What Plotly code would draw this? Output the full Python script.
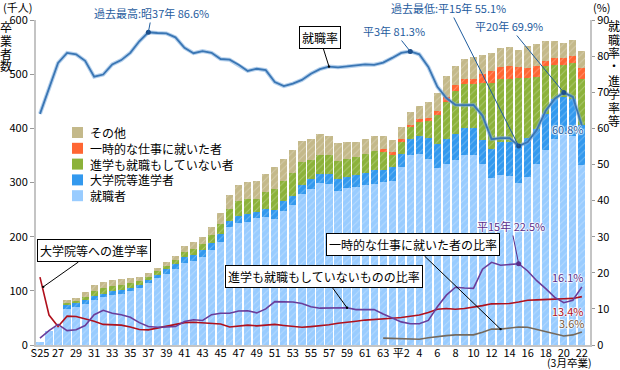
import plotly.graph_objects as go

# ---------------- data ----------------
years = list(range(1950, 2011))

employed = [6, 25, 34, 67, 70, 76, 84, 88, 93, 95,
            100, 106, 115, 123, 132, 141, 151, 155, 163, 176,
            191, 218, 226, 228, 235, 237, 233, 248, 258, 279,
            288, 300, 297, 284, 289, 292, 296, 298, 301, 303,
            329, 351, 353, 343, 327, 334, 341, 351, 350, 335,
            308, 314, 312, 300, 311, 334, 360, 380, 389, 385, 332]
grad_school = [0, 0, 0, 7, 7, 7, 6, 6, 6, 6,
               6, 5, 5, 7, 8, 9, 11, 12, 12, 13,
               14, 11, 13, 14, 11, 14, 17, 17, 18, 16,
               18, 16, 19, 22, 21, 21, 22, 25, 22, 25,
               24, 29, 33, 39, 45, 46, 48, 49, 50, 44,
               53, 60, 62, 71, 72, 65, 66, 75, 68, 69, 74]
neither = [0, 0, 0, 3, 4, 5, 9, 11, 10, 9,
           8, 7, 6, 6, 6, 7, 9, 10, 11, 15,
           18, 22, 27, 27, 24, 32, 38, 37, 42, 42,
           36, 35, 34, 34, 33, 34, 35, 35, 34, 23,
           22, 22, 26, 32, 53, 69, 80, 81, 82, 104,
           122, 118, 118, 122, 110, 96, 90, 62, 60, 66, 85]
temporary = [0] * 38 + [5, 6,
             5, 4, 5, 6, 7, 8, 11, 10, 10, 18,
             22, 21, 24, 21, 18, 20, 9, 12, 12, 14, 20]
others = [0, 0, 0, 6, 6, 9, 11, 11, 11, 11,
          10, 8, 7, 6, 7, 8, 12, 14, 14, 14,
          21, 26, 29, 32, 33, 33, 41, 41, 42, 40,
          38, 39, 36, 33, 32, 28, 27, 28, 24, 21,
          23, 25, 24, 29, 33, 40, 35, 37, 40, 34,
          35, 35, 34, 31, 41, 40, 36, 32, 28, 29, 32]

employment_rate = [64.0, 71.3, 78.1, 80.9, 80.5, 78.7, 74.3, 74.9, 77.7, 78.9,
                   80.9, 84.1, 86.6, 86.4, 86.3, 85.2, 82.3, 80.8, 81.4, 80.9,
                   79.2, 79.0, 77.6, 75.9, 76.5, 76.1, 72.8, 71.7, 72.4, 73.4,
                   75.1, 76.4, 77.1, 76.9, 77.1, 77.5, 77.7, 77.6, 78.2, 79.5,
                   80.9, 81.3, 80.5, 77.0, 71.5, 68.4, 66.5, 66.4, 66.5, 63.5,
                   57.0, 57.3, 57.3, 55.1, 56.2, 59.5, 64.9, 68.2, 69.9, 68.7, 60.8]
grad_rate = [18.8, 8.3, 5.1, 8.0, 7.9, 7.3, 6.6, 5.7, 5.7, 5.5,
             5.0, 4.3, 4.2, 4.7, 5.2, 5.5, 6.2, 6.3, 6.1, 6.0,
             5.8, 5.0, 5.2, 5.5, 5.3, 5.5, 5.7, 5.4, 5.2, 4.9,
             5.1, 5.3, 5.6, 6.0, 6.4, 6.6, 6.9, 7.0, 7.1, 7.4,
             7.6, 7.9, 8.3, 9.0, 9.9, 10.1, 9.9, 10.1, 10.4, 10.9,
             11.4, 11.4, 11.5, 11.9, 12.4, 12.5, 12.7, 12.7, 12.8, 12.9, 13.4]
neither_rate = [1.9, 4.0, 5.7, 4.0, 4.2, 5.4, 8.4, 9.6, 8.8, 8.4,
                7.7, 6.2, 5.1, 4.9, 5.0, 5.1, 6.5, 7.0, 6.8, 8.4,
                8.8, 8.8, 9.4, 9.5, 8.9, 10.0, 12.0, 11.9, 11.9, 11.5,
                10.6, 10.2, 10.2, 10.2, 10.3, 9.8, 9.7, 9.8, 8.6, 7.4,
                6.4, 5.9, 5.9, 6.8, 10.6, 13.8, 16.0, 15.8, 15.7, 21.0,
                22.9, 22.1, 22.4, 22.5, 20.5, 17.8, 15.6, 13.2, 11.7, 12.4, 16.1]
temporary_rate = [None] * 38 + [1.9, 1.8,
                  1.8, 1.6, 1.6, 2.0, 2.4, 2.6, 2.8, 2.8, 2.8, 3.5,
                  4.4, 4.4, 4.6, 5.0, 4.9, 4.3, 3.6, 3.0, 2.5, 2.8, 3.6]

tick_years = list(range(1950, 2011, 2))
tick_labels = ["S25", "27", "29", "31", "33", "35", "37", "39", "41", "43",
               "45", "47", "49", "51", "53", "55", "57", "59", "61", "63",
               "平2", "4", "6", "8", "10", "12", "14", "16", "18", "20", "22"]

# ---------------- layout helpers ----------------
W, H = 620, 370
PL, PR, PT, PB = 36, 590, 20, 345          # plot area in pixels
X0, X1 = 1949.56, 2010.9
FONT = "Noto Sans CJK JP"

def px2paper_x(px):
    return (px - PL) / (PR - PL)

def px2paper_y(py):
    return (PB - py) / (PB - PT)

def year_px(yr):
    return PL + (yr - X0) / (X1 - X0) * (PR - PL)

def pct_py(v):
    return PB - v / 90.0 * (PB - PT)

C_EMP = "#99ccff"
C_GRAD = "#3399ee"
C_NEITHER = "#8cb23a"
C_TEMP = "#ff6633"
C_OTHER = "#c4b98a"

fig = go.Figure()

def add_bar(vals, name, color):
    fig.add_trace(go.Bar(
        x=years, y=vals, name=name, showlegend=False,
        marker=dict(color=color, line=dict(width=0),
                    pattern=dict(shape="/", fgcolor="rgba(255,255,255,0.55)",
                                 size=5, solidity=0.2)),
        hoverinfo="skip"))

add_bar(employed, "就職者", C_EMP)
add_bar(grad_school, "大学院等進学者", C_GRAD)
add_bar(neither, "進学も就職もしていない者", C_NEITHER)
add_bar(temporary, "一時的な仕事に就いた者", C_TEMP)
add_bar(others, "その他", C_OTHER)

def add_line(vals, color, width):
    fig.add_trace(go.Scatter(x=years, y=vals, yaxis="y2", mode="lines",
                             line=dict(color=color, width=width),
                             showlegend=False, hoverinfo="skip",
                             connectgaps=False))

add_line(grad_rate, "#b0101c", 1.6)
add_line(neither_rate, "#6a3d9a", 1.6)
add_line(temporary_rate, "#75695c", 1.6)
add_line(employment_rate, "rgba(120,170,220,0.55)", 4)
add_line(employment_rate, "#3a76b4", 1.8)

# highlight dots
hl = [1962, 1991, 2003, 2008]
fig.add_trace(go.Scatter(x=hl, y=[employment_rate[years.index(y)] for y in hl],
                         yaxis="y2", mode="markers", showlegend=False,
                         marker=dict(color="#1d4f8a", size=5), hoverinfo="skip"))
fig.add_trace(go.Scatter(x=[2003], y=[neither_rate[years.index(2003)]],
                         yaxis="y2", mode="markers", showlegend=False,
                         marker=dict(color="#5a2d8a", size=5), hoverinfo="skip"))

ann = []
shapes = []

def text_ann(px, py, text, color="#000", size=11, shadow=None, anchor="center"):
    d = dict(x=px2paper_x(px), y=px2paper_y(py), xref="paper", yref="paper",
             text=text, showarrow=False, xanchor=anchor, yanchor="middle",
             font=dict(family=FONT, size=size, color=color))
    if shadow:
        d["font"]["shadow"] = shadow
    ann.append(d)

HALO = "1px 0 1px white, -1px 0 1px white, 0 1px 1px white, 0 -1px 1px white"

def arrow_ann(yr, val, tx, ty, text, color, box=False, dot=False, size=11, shadow=None):
    d = dict(x=yr, y=val, xref="x", yref="y2", text=text, showarrow=True,
             ax=tx - year_px(yr), ay=ty - pct_py(val), axref="pixel", ayref="pixel",
             arrowcolor="#000" if box else color, arrowwidth=1,
             arrowhead=6 if dot else 0, arrowsize=0.6, standoff=0, startstandoff=0,
             font=dict(family=FONT, size=size, color=color))
    if box:
        d.update(bordercolor="#000", borderwidth=1, borderpad=2, bgcolor="#ffffff")
    if shadow:
        d["font"]["shadow"] = shadow
    ann.append(d)

BLUE_T = "#1f5c9e"
arrow_ann(1962, 86.6, 152, 13, "過去最高:昭37年 86.6%", BLUE_T)
arrow_ann(1991, 81.3, 394, 31, "平3年 81.3%", BLUE_T)
arrow_ann(2003, 55.1, 449, 8, "過去最低:平15年 55.1%", BLUE_T)
arrow_ann(2008, 69.9, 509, 26, "平20年 69.9%", BLUE_T)
arrow_ann(2003, 22.5, 511, 226, "平15年 22.5%", "#5a2d8a", shadow=HALO)

# boxed labels with black leader lines
arrow_ann(1982, employment_rate[years.index(1982)], 320, 38, "就職率", "#000", box=True, dot=True, size=12)
arrow_ann(1950.36, 16.1, 94, 251, "大学院等への進学率", "#000", box=True, dot=True, size=12)
arrow_ann(1984, neither_rate[years.index(1984)], 324, 276, "進学も就職もしていないものの比率", "#000", box=True, dot=True, size=12)
arrow_ann(2001, temporary_rate[years.index(2001)], 413, 245, "一時的な仕事に就いた者の比率", "#000", box=True, dot=True, size=12)

text_ann(568, 129, "60.8%", BLUE_T, shadow=HALO)
text_ann(568, 277, "16.1%", "#5a2d8a", shadow=HALO)
text_ann(568, 311, "13.4%", "#b0101c", shadow=HALO)
text_ann(571, 323, "3.6%", "#7a5a3a", shadow=HALO)

# axis titles
text_ann(1, 7, "(千人)", "#000", size=11, anchor="left")
for ch, y in zip("卒業者数", [27, 40, 53, 66]):
    text_ann(6, y, ch, "#000", size=12)
text_ann(591, 7, "(%)", "#000", size=11, anchor="left")
for ch, y in zip("就職率・進学率等", [26, 39, 52, 65.5, 80, 93.5, 107, 120.5]):
    text_ann(614, y, ch, "#000", size=12)
text_ann(569, 362, "(3月卒業)", "#000", size=10.5)

# manual legend
legend_items = [("その他", C_OTHER), ("一時的な仕事に就いた者", C_TEMP),
                ("進学も就職もしていない者", C_NEITHER), ("大学院等進学者", C_GRAD),
                ("就職者", C_EMP)]
for i, (name, col) in enumerate(legend_items):
    top = 127 + i * 15.8
    shapes.append(dict(type="rect", xref="paper", yref="paper",
                       x0=px2paper_x(72), x1=px2paper_x(83),
                       y0=px2paper_y(top + 11), y1=px2paper_y(top),
                       fillcolor=col, line=dict(width=0)))
    text_ann(88, top + 5.5, name, "#000", size=12, anchor="left")

fig.update_layout(
    width=W, height=H,
    margin=dict(l=PL, r=W - PR, t=PT, b=H - PB, autoexpand=False),
    paper_bgcolor="white", plot_bgcolor="white",
    barmode="stack", bargap=0.2,
    font=dict(family=FONT, size=11, color="#000"),
    showlegend=False,
    xaxis=dict(range=[X0, X1], tickvals=tick_years, ticktext=tick_labels,
               showgrid=False, zeroline=False, showline=True, automargin=False,
               linecolor="#c4c4c4", linewidth=2, ticks="", ticklabelstandoff=-3,
               tickfont=dict(size=11, family=FONT)),
    yaxis=dict(range=[0, 600], tickvals=list(range(0, 601, 100)),
               showgrid=False, zeroline=False, showline=True, automargin=False,
               linecolor="#c4c4c4", linewidth=2, ticks="outside",
               ticklen=4, tickcolor="#999", tickfont=dict(size=11, family=FONT)),
    yaxis2=dict(range=[0, 90], tickvals=list(range(0, 91, 10)),
                overlaying="y", side="right", showgrid=False, zeroline=False,
                showline=True, linecolor="#c4c4c4", linewidth=2, automargin=False,
                ticks="outside", ticklen=3, tickcolor="#999",
                tickfont=dict(size=11, family=FONT)),
    annotations=ann, shapes=shapes,
)

fig.write_html("out.html", config={"displayModeBar": False},
               post_script="document.body.style.margin='0px';document.body.style.padding='0px';")
